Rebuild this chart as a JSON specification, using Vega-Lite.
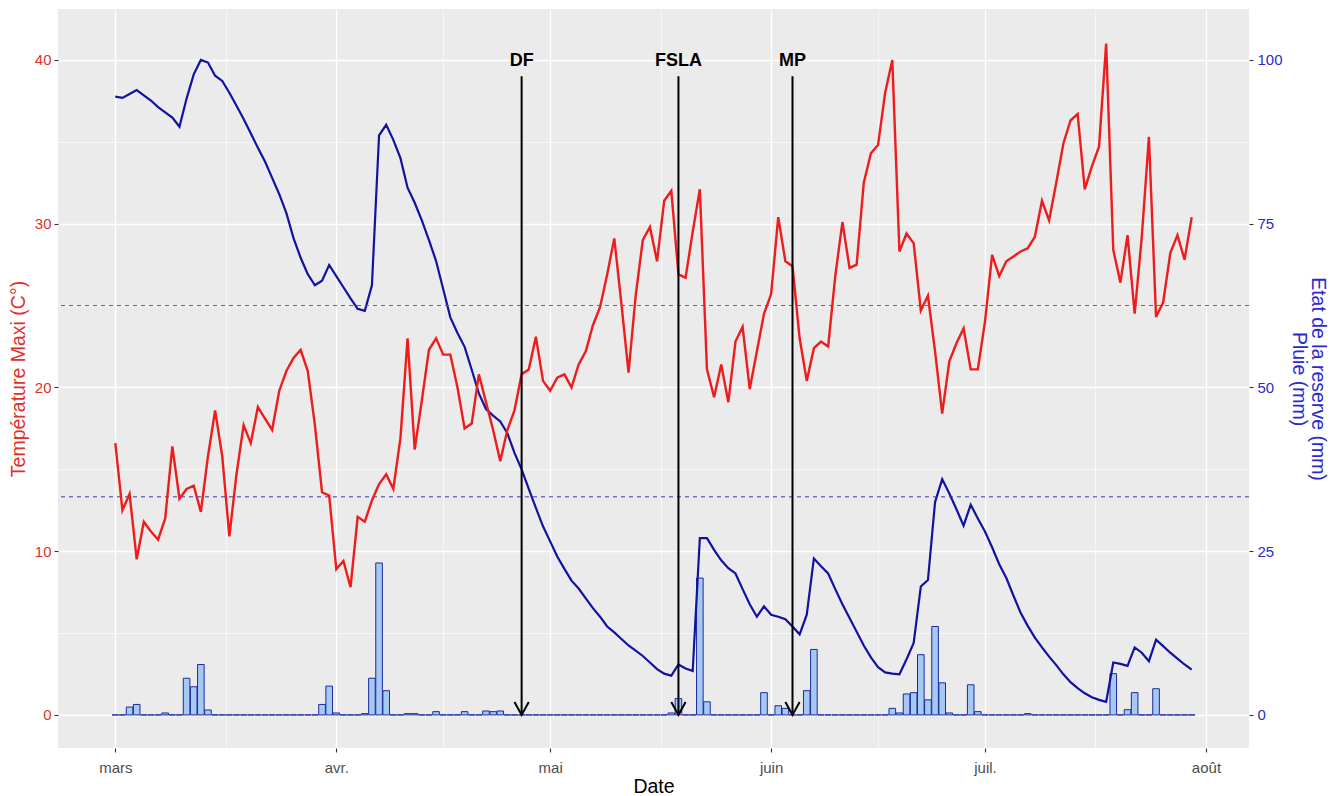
{
  "$schema": "https://vega.github.io/schema/vega-lite/v6.json",
  "width": 1191,
  "height": 739,
  "autosize": {"type": "none"},
  "padding": {"left": 58, "top": 9, "right": 87, "bottom": 48},
  "background": "white",
  "config": {
    "view": {"fill": "#EBEBEB", "stroke": null},
    "font": "Liberation Sans",
    "scale": {"continuousPadding": 0},
    "axis": {"domain": false, "tickColor": "#333333", "tickSize": 4, "tickWidth": 1.1, "labelFontSize": 15, "titleFontSize": 19.5, "titleFontWeight": "normal", "gridColor": "#FFFFFF", "labelFont": "Liberation Sans", "titleFont": "Liberation Sans"}
  },
  "datasets": {
    "main": [
      {"d": "2021-03-01", "t": 16.6, "r": 94.4, "p": 0},
      {"d": "2021-03-02", "t": 12.5, "r": 94.2, "p": 0},
      {"d": "2021-03-03", "t": 13.5, "r": 94.8, "p": 1.2},
      {"d": "2021-03-04", "t": 9.5, "r": 95.4, "p": 1.6},
      {"d": "2021-03-05", "t": 11.8, "r": 94.6, "p": 0},
      {"d": "2021-03-06", "t": 11.2, "r": 93.8, "p": 0},
      {"d": "2021-03-07", "t": 10.7, "r": 92.8, "p": 0},
      {"d": "2021-03-08", "t": 12.0, "r": 92.0, "p": 0.3},
      {"d": "2021-03-09", "t": 16.4, "r": 91.2, "p": 0},
      {"d": "2021-03-10", "t": 13.2, "r": 89.8, "p": 0},
      {"d": "2021-03-11", "t": 13.8, "r": 94.1, "p": 5.6},
      {"d": "2021-03-12", "t": 14.0, "r": 97.8, "p": 4.3},
      {"d": "2021-03-13", "t": 12.4, "r": 100.0, "p": 7.7},
      {"d": "2021-03-14", "t": 15.8, "r": 99.6, "p": 0.75},
      {"d": "2021-03-15", "t": 18.6, "r": 97.6, "p": 0},
      {"d": "2021-03-16", "t": 15.8, "r": 96.8, "p": 0},
      {"d": "2021-03-17", "t": 10.9, "r": 95.0, "p": 0},
      {"d": "2021-03-18", "t": 14.7, "r": 93.0, "p": 0},
      {"d": "2021-03-19", "t": 17.7, "r": 91.0, "p": 0},
      {"d": "2021-03-20", "t": 16.6, "r": 88.8, "p": 0},
      {"d": "2021-03-21", "t": 18.8, "r": 86.6, "p": 0},
      {"d": "2021-03-22", "t": 18.1, "r": 84.5, "p": 0},
      {"d": "2021-03-23", "t": 17.4, "r": 82.0, "p": 0},
      {"d": "2021-03-24", "t": 19.8, "r": 79.5, "p": 0},
      {"d": "2021-03-25", "t": 21.0, "r": 76.6, "p": 0},
      {"d": "2021-03-26", "t": 21.8, "r": 72.8, "p": 0},
      {"d": "2021-03-27", "t": 22.3, "r": 69.8, "p": 0},
      {"d": "2021-03-28", "t": 21.0, "r": 67.3, "p": 0},
      {"d": "2021-03-29", "t": 17.7, "r": 65.6, "p": 0},
      {"d": "2021-03-30", "t": 13.6, "r": 66.3, "p": 1.6},
      {"d": "2021-03-31", "t": 13.4, "r": 68.7, "p": 4.4},
      {"d": "2021-04-01", "t": 8.9, "r": 67.0, "p": 0.3},
      {"d": "2021-04-02", "t": 9.4, "r": 65.3, "p": 0},
      {"d": "2021-04-03", "t": 7.8, "r": 63.6, "p": 0},
      {"d": "2021-04-04", "t": 12.1, "r": 62.0, "p": 0},
      {"d": "2021-04-05", "t": 11.8, "r": 61.7, "p": 0.2},
      {"d": "2021-04-06", "t": 13.1, "r": 65.6, "p": 5.6},
      {"d": "2021-04-07", "t": 14.1, "r": 88.5, "p": 23.2},
      {"d": "2021-04-08", "t": 14.7, "r": 90.1, "p": 3.7},
      {"d": "2021-04-09", "t": 13.8, "r": 87.8, "p": 0},
      {"d": "2021-04-10", "t": 16.9, "r": 85.0, "p": 0},
      {"d": "2021-04-11", "t": 23.0, "r": 80.5, "p": 0.2},
      {"d": "2021-04-12", "t": 16.2, "r": 78.2, "p": 0.2},
      {"d": "2021-04-13", "t": 19.2, "r": 75.5, "p": 0},
      {"d": "2021-04-14", "t": 22.3, "r": 72.5, "p": 0},
      {"d": "2021-04-15", "t": 23.0, "r": 69.3, "p": 0.5},
      {"d": "2021-04-16", "t": 22.0, "r": 65.0, "p": 0},
      {"d": "2021-04-17", "t": 22.0, "r": 60.7, "p": 0},
      {"d": "2021-04-18", "t": 20.0, "r": 58.3, "p": 0},
      {"d": "2021-04-19", "t": 17.5, "r": 56.2, "p": 0.5},
      {"d": "2021-04-20", "t": 17.8, "r": 52.7, "p": 0},
      {"d": "2021-04-21", "t": 20.8, "r": 49.1, "p": 0},
      {"d": "2021-04-22", "t": 19.1, "r": 46.7, "p": 0.6},
      {"d": "2021-04-23", "t": 17.4, "r": 45.7, "p": 0.5},
      {"d": "2021-04-24", "t": 15.5, "r": 44.8, "p": 0.6},
      {"d": "2021-04-25", "t": 17.4, "r": 43.0, "p": 0},
      {"d": "2021-04-26", "t": 18.6, "r": 40.0, "p": 0},
      {"d": "2021-04-27", "t": 20.8, "r": 37.5, "p": 0},
      {"d": "2021-04-28", "t": 21.1, "r": 34.5, "p": 0},
      {"d": "2021-04-29", "t": 23.1, "r": 31.6, "p": 0},
      {"d": "2021-04-30", "t": 20.4, "r": 28.8, "p": 0},
      {"d": "2021-05-01", "t": 19.8, "r": 26.5, "p": 0},
      {"d": "2021-05-02", "t": 20.6, "r": 24.2, "p": 0},
      {"d": "2021-05-03", "t": 20.8, "r": 22.3, "p": 0},
      {"d": "2021-05-04", "t": 20.0, "r": 20.5, "p": 0},
      {"d": "2021-05-05", "t": 21.4, "r": 19.3, "p": 0},
      {"d": "2021-05-06", "t": 22.2, "r": 17.8, "p": 0},
      {"d": "2021-05-07", "t": 23.8, "r": 16.3, "p": 0},
      {"d": "2021-05-08", "t": 24.9, "r": 15.0, "p": 0},
      {"d": "2021-05-09", "t": 26.9, "r": 13.5, "p": 0},
      {"d": "2021-05-10", "t": 29.1, "r": 12.6, "p": 0},
      {"d": "2021-05-11", "t": 25.1, "r": 11.6, "p": 0},
      {"d": "2021-05-12", "t": 20.9, "r": 10.6, "p": 0},
      {"d": "2021-05-13", "t": 25.6, "r": 9.8, "p": 0},
      {"d": "2021-05-14", "t": 29.0, "r": 9.0, "p": 0},
      {"d": "2021-05-15", "t": 29.8, "r": 8.0, "p": 0},
      {"d": "2021-05-16", "t": 27.7, "r": 7.0, "p": 0},
      {"d": "2021-05-17", "t": 31.4, "r": 6.3, "p": 0},
      {"d": "2021-05-18", "t": 32.0, "r": 6.0, "p": 0.3},
      {"d": "2021-05-19", "t": 26.9, "r": 7.7, "p": 2.5},
      {"d": "2021-05-20", "t": 26.7, "r": 7.1, "p": 0},
      {"d": "2021-05-21", "t": 29.5, "r": 6.7, "p": 0},
      {"d": "2021-05-22", "t": 32.1, "r": 27.0, "p": 20.9},
      {"d": "2021-05-23", "t": 21.1, "r": 27.0, "p": 2.0},
      {"d": "2021-05-24", "t": 19.4, "r": 25.2, "p": 0},
      {"d": "2021-05-25", "t": 21.4, "r": 23.6, "p": 0},
      {"d": "2021-05-26", "t": 19.1, "r": 22.4, "p": 0},
      {"d": "2021-05-27", "t": 22.8, "r": 21.6, "p": 0},
      {"d": "2021-05-28", "t": 23.7, "r": 19.2, "p": 0},
      {"d": "2021-05-29", "t": 19.9, "r": 16.9, "p": 0},
      {"d": "2021-05-30", "t": 22.2, "r": 15.0, "p": 0},
      {"d": "2021-05-31", "t": 24.5, "r": 16.6, "p": 3.4},
      {"d": "2021-06-01", "t": 25.7, "r": 15.3, "p": 0},
      {"d": "2021-06-02", "t": 30.4, "r": 15.0, "p": 1.4},
      {"d": "2021-06-03", "t": 27.7, "r": 14.6, "p": 1.0},
      {"d": "2021-06-04", "t": 27.4, "r": 13.5, "p": 0},
      {"d": "2021-06-05", "t": 23.0, "r": 12.3, "p": 0},
      {"d": "2021-06-06", "t": 20.4, "r": 15.3, "p": 3.7},
      {"d": "2021-06-07", "t": 22.4, "r": 23.9, "p": 10.0},
      {"d": "2021-06-08", "t": 22.8, "r": 22.7, "p": 0},
      {"d": "2021-06-09", "t": 22.5, "r": 21.6, "p": 0},
      {"d": "2021-06-10", "t": 26.8, "r": 19.2, "p": 0},
      {"d": "2021-06-11", "t": 30.1, "r": 16.9, "p": 0},
      {"d": "2021-06-12", "t": 27.3, "r": 14.8, "p": 0},
      {"d": "2021-06-13", "t": 27.5, "r": 12.7, "p": 0},
      {"d": "2021-06-14", "t": 32.5, "r": 10.6, "p": 0},
      {"d": "2021-06-15", "t": 34.3, "r": 8.8, "p": 0},
      {"d": "2021-06-16", "t": 34.8, "r": 7.3, "p": 0},
      {"d": "2021-06-17", "t": 38.0, "r": 6.5, "p": 0},
      {"d": "2021-06-18", "t": 40.0, "r": 6.3, "p": 1.0},
      {"d": "2021-06-19", "t": 28.3, "r": 6.2, "p": 0.3},
      {"d": "2021-06-20", "t": 29.4, "r": 8.5, "p": 3.2},
      {"d": "2021-06-21", "t": 28.8, "r": 11.0, "p": 3.4},
      {"d": "2021-06-22", "t": 24.7, "r": 19.6, "p": 9.2},
      {"d": "2021-06-23", "t": 25.6, "r": 20.6, "p": 2.3},
      {"d": "2021-06-24", "t": 22.2, "r": 32.5, "p": 13.5},
      {"d": "2021-06-25", "t": 18.4, "r": 36.0, "p": 4.9},
      {"d": "2021-06-26", "t": 21.6, "r": 33.8, "p": 0.3},
      {"d": "2021-06-27", "t": 22.7, "r": 31.4, "p": 0},
      {"d": "2021-06-28", "t": 23.6, "r": 28.9, "p": 0},
      {"d": "2021-06-29", "t": 21.1, "r": 32.1, "p": 4.6},
      {"d": "2021-06-30", "t": 21.1, "r": 30.0, "p": 0.5},
      {"d": "2021-07-01", "t": 24.0, "r": 28.0, "p": 0},
      {"d": "2021-07-02", "t": 28.1, "r": 25.6, "p": 0},
      {"d": "2021-07-03", "t": 26.8, "r": 23.0, "p": 0},
      {"d": "2021-07-04", "t": 27.7, "r": 20.9, "p": 0},
      {"d": "2021-07-05", "t": 28.0, "r": 18.2, "p": 0},
      {"d": "2021-07-06", "t": 28.3, "r": 15.6, "p": 0},
      {"d": "2021-07-07", "t": 28.5, "r": 13.6, "p": 0.2},
      {"d": "2021-07-08", "t": 29.2, "r": 11.8, "p": 0},
      {"d": "2021-07-09", "t": 31.4, "r": 10.3, "p": 0},
      {"d": "2021-07-10", "t": 30.2, "r": 8.9, "p": 0},
      {"d": "2021-07-11", "t": 32.5, "r": 7.6, "p": 0},
      {"d": "2021-07-12", "t": 34.9, "r": 6.2, "p": 0},
      {"d": "2021-07-13", "t": 36.3, "r": 5.0, "p": 0},
      {"d": "2021-07-14", "t": 36.7, "r": 4.1, "p": 0},
      {"d": "2021-07-15", "t": 32.1, "r": 3.3, "p": 0},
      {"d": "2021-07-16", "t": 33.5, "r": 2.7, "p": 0},
      {"d": "2021-07-17", "t": 34.7, "r": 2.3, "p": 0},
      {"d": "2021-07-18", "t": 41.0, "r": 2.0, "p": 0},
      {"d": "2021-07-19", "t": 28.4, "r": 8.0, "p": 6.3},
      {"d": "2021-07-20", "t": 26.4, "r": 7.8, "p": 0},
      {"d": "2021-07-21", "t": 29.3, "r": 7.5, "p": 0.8},
      {"d": "2021-07-22", "t": 24.5, "r": 10.3, "p": 3.4},
      {"d": "2021-07-23", "t": 29.2, "r": 9.5, "p": 0},
      {"d": "2021-07-24", "t": 35.3, "r": 8.2, "p": 0},
      {"d": "2021-07-25", "t": 24.3, "r": 11.5, "p": 4.0},
      {"d": "2021-07-26", "t": 25.2, "r": 10.5, "p": 0},
      {"d": "2021-07-27", "t": 28.2, "r": 9.5, "p": 0},
      {"d": "2021-07-28", "t": 29.3, "r": 8.6, "p": 0},
      {"d": "2021-07-29", "t": 27.8, "r": 7.7, "p": 0},
      {"d": "2021-07-30", "t": 30.4, "r": 6.9, "p": 0}
    ],
    "events": [
      {"d": "2021-04-27", "label": "DF"},
      {"d": "2021-05-19", "label": "FSLA"},
      {"d": "2021-06-04", "label": "MP"}
    ]
  },
  "data": {"name": "main"},
  "layer": [
    {
      "layer": [
        {
          "mark": {"type": "bar", "width": 6.6, "fill": "#a6c9f2", "stroke": "#1c2a9e", "strokeWidth": 1},
          "encoding": {
            "x": {
              "field": "d", "type": "temporal",
              "scale": {"type": "utc", "domain": [1613862144000, 1628297856000], "nice": false, "padding": 0},
              "axis": {
                "title": "Date",
                "values": [1614556800000, 1615896000000, 1617235200000, 1618531200000, 1619827200000, 1621166400000, 1622505600000, 1623801600000, 1625097600000, 1626436800000, 1627776000000],
                "labelExpr": "utcdate(datum.value) == 1 ? ['janv.','févr.','mars','avr.','mai','juin','juil.','août','sept.','oct.','nov.','déc.'][utcmonth(datum.value)] : ''",
                "grid": true,
                "gridWidth": {"condition": {"test": "utcdate(datum.value) == 1", "value": 1.3}, "value": 0.6},
                "tickOpacity": {"condition": {"test": "utcdate(datum.value) == 1", "value": 1}, "value": 0},
                "labelColor": "#4d4d4d", "labelPadding": 8, "labelFlush": false, "labelOverlap": false,
                "titleColor": "#000000", "titlePadding": 2
              }
            },
            "y": {
              "field": "p", "type": "quantitative", "stack": null,
              "scale": {"domain": [-5.05, 107.78], "nice": false, "zero": false},
              "axis": {
                "orient": "right", "title": ["Etat de la reserve (mm)", "Pluie (mm)"],
                "values": [0, 25, 50, 75, 100], "grid": false,
                "labelColor": "#2a2ad0", "titleColor": "#2a2ad0", "labelPadding": 4, "titlePadding": 6, "titleLineHeight": 19
              }
            }
          }
        },
        {
          "mark": {"type": "line", "color": "#1212a0", "strokeWidth": 2.2},
          "encoding": {
            "x": {
              "field": "d", "type": "temporal",
              "scale": {"type": "utc", "domain": [1613862144000, 1628297856000], "nice": false, "padding": 0},
              "axis": {
                "title": "Date",
                "values": [1614556800000, 1615896000000, 1617235200000, 1618531200000, 1619827200000, 1621166400000, 1622505600000, 1623801600000, 1625097600000, 1626436800000, 1627776000000],
                "labelExpr": "utcdate(datum.value) == 1 ? ['janv.','févr.','mars','avr.','mai','juin','juil.','août','sept.','oct.','nov.','déc.'][utcmonth(datum.value)] : ''",
                "grid": true,
                "gridWidth": {"condition": {"test": "utcdate(datum.value) == 1", "value": 1.3}, "value": 0.6},
                "tickOpacity": {"condition": {"test": "utcdate(datum.value) == 1", "value": 1}, "value": 0},
                "labelColor": "#4d4d4d", "labelPadding": 8, "labelFlush": false, "labelOverlap": false,
                "titleColor": "#000000", "titlePadding": 2
              }
            },
            "y": {
              "field": "r", "type": "quantitative",
              "scale": {"domain": [-5.05, 107.78], "nice": false, "zero": false},
              "axis": {
                "orient": "right", "title": ["Etat de la reserve (mm)", "Pluie (mm)"],
                "values": [0, 25, 50, 75, 100], "grid": false,
                "labelColor": "#2a2ad0", "titleColor": "#2a2ad0", "labelPadding": 4, "titlePadding": 6, "titleLineHeight": 19
              }
            }
          }
        },
        {
          "data": {"values": [{}]},
          "mark": {"type": "rule", "color": "#3b3bb0", "strokeWidth": 1, "strokeDash": [4, 4]},
          "encoding": {
            "y": {
              "datum": 33.3, "type": "quantitative",
              "scale": {"domain": [-5.05, 107.78], "nice": false, "zero": false},
              "axis": {
                "orient": "right", "title": ["Etat de la reserve (mm)", "Pluie (mm)"],
                "values": [0, 25, 50, 75, 100], "grid": false,
                "labelColor": "#2a2ad0", "titleColor": "#2a2ad0", "labelPadding": 4, "titlePadding": 6, "titleLineHeight": 19
              }
            }
          }
        }
      ]
    },
    {
      "layer": [
        {
          "mark": {"type": "line", "color": "#ee1c1c", "strokeWidth": 2.4},
          "encoding": {
            "x": {
              "field": "d", "type": "temporal",
              "scale": {"type": "utc", "domain": [1613862144000, 1628297856000], "nice": false, "padding": 0},
              "axis": {
                "title": "Date",
                "values": [1614556800000, 1615896000000, 1617235200000, 1618531200000, 1619827200000, 1621166400000, 1622505600000, 1623801600000, 1625097600000, 1626436800000, 1627776000000],
                "labelExpr": "utcdate(datum.value) == 1 ? ['janv.','févr.','mars','avr.','mai','juin','juil.','août','sept.','oct.','nov.','déc.'][utcmonth(datum.value)] : ''",
                "grid": true,
                "gridWidth": {"condition": {"test": "utcdate(datum.value) == 1", "value": 1.3}, "value": 0.6},
                "tickOpacity": {"condition": {"test": "utcdate(datum.value) == 1", "value": 1}, "value": 0},
                "labelColor": "#4d4d4d", "labelPadding": 8, "labelFlush": false, "labelOverlap": false,
                "titleColor": "#000000", "titlePadding": 2
              }
            },
            "y": {
              "field": "t", "type": "quantitative",
              "scale": {"domain": [-2.02, 43.11], "nice": false, "zero": false},
              "axis": {
                "orient": "left", "title": "Température Maxi (C°)",
                "values": [0, 5, 10, 15, 20, 25, 30, 35, 40],
                "labelExpr": "datum.value % 10 == 0 ? datum.label : ''",
                "grid": true,
                "gridWidth": {"condition": {"test": "datum.value % 10 == 0", "value": 1.3}, "value": 0.6},
                "tickOpacity": {"condition": {"test": "datum.value % 10 == 0", "value": 1}, "value": 0},
                "labelColor": "#e0302a", "titleColor": "#e0302a", "labelPadding": 3, "titlePadding": 6
              }
            }
          }
        },
        {
          "data": {"values": [{}]},
          "mark": {"type": "rule", "color": "#cc3333", "strokeWidth": 1, "strokeDash": [4, 4]},
          "encoding": {
            "y": {
              "datum": 25, "type": "quantitative",
              "scale": {"domain": [-2.02, 43.11], "nice": false, "zero": false},
              "axis": {
                "orient": "left", "title": "Température Maxi (C°)",
                "values": [0, 5, 10, 15, 20, 25, 30, 35, 40],
                "labelExpr": "datum.value % 10 == 0 ? datum.label : ''",
                "grid": true,
                "gridWidth": {"condition": {"test": "datum.value % 10 == 0", "value": 1.3}, "value": 0.6},
                "tickOpacity": {"condition": {"test": "datum.value % 10 == 0", "value": 1}, "value": 0},
                "labelColor": "#e0302a", "titleColor": "#e0302a", "labelPadding": 3, "titlePadding": 6
              }
            }
          }
        },
        {
          "data": {"name": "events"},
          "mark": {"type": "rule", "color": "#000000", "strokeWidth": 2},
          "encoding": {
            "x": {
              "field": "d", "type": "temporal",
              "scale": {"type": "utc", "domain": [1613862144000, 1628297856000], "nice": false, "padding": 0},
              "axis": {
                "title": "Date",
                "values": [1614556800000, 1615896000000, 1617235200000, 1618531200000, 1619827200000, 1621166400000, 1622505600000, 1623801600000, 1625097600000, 1626436800000, 1627776000000],
                "labelExpr": "utcdate(datum.value) == 1 ? ['janv.','févr.','mars','avr.','mai','juin','juil.','août','sept.','oct.','nov.','déc.'][utcmonth(datum.value)] : ''",
                "grid": true,
                "gridWidth": {"condition": {"test": "utcdate(datum.value) == 1", "value": 1.3}, "value": 0.6},
                "tickOpacity": {"condition": {"test": "utcdate(datum.value) == 1", "value": 1}, "value": 0},
                "labelColor": "#4d4d4d", "labelPadding": 8, "labelFlush": false, "labelOverlap": false,
                "titleColor": "#000000", "titlePadding": 2
              }
            },
            "y": {
              "datum": 39, "type": "quantitative",
              "scale": {"domain": [-2.02, 43.11], "nice": false, "zero": false},
              "axis": {
                "orient": "left", "title": "Température Maxi (C°)",
                "values": [0, 5, 10, 15, 20, 25, 30, 35, 40],
                "labelExpr": "datum.value % 10 == 0 ? datum.label : ''",
                "grid": true,
                "gridWidth": {"condition": {"test": "datum.value % 10 == 0", "value": 1.3}, "value": 0.6},
                "tickOpacity": {"condition": {"test": "datum.value % 10 == 0", "value": 1}, "value": 0},
                "labelColor": "#e0302a", "titleColor": "#e0302a", "labelPadding": 3, "titlePadding": 6
              }
            },
            "y2": {"datum": 0}
          }
        },
        {
          "data": {"name": "events"},
          "mark": {"type": "point", "shape": "M-0.55,-1L0,0L0.55,-1", "filled": false, "stroke": "#000000", "strokeWidth": 2, "size": 676, "opacity": 1},
          "encoding": {
            "x": {
              "field": "d", "type": "temporal",
              "scale": {"type": "utc", "domain": [1613862144000, 1628297856000], "nice": false, "padding": 0},
              "axis": {
                "title": "Date",
                "values": [1614556800000, 1615896000000, 1617235200000, 1618531200000, 1619827200000, 1621166400000, 1622505600000, 1623801600000, 1625097600000, 1626436800000, 1627776000000],
                "labelExpr": "utcdate(datum.value) == 1 ? ['janv.','févr.','mars','avr.','mai','juin','juil.','août','sept.','oct.','nov.','déc.'][utcmonth(datum.value)] : ''",
                "grid": true,
                "gridWidth": {"condition": {"test": "utcdate(datum.value) == 1", "value": 1.3}, "value": 0.6},
                "tickOpacity": {"condition": {"test": "utcdate(datum.value) == 1", "value": 1}, "value": 0},
                "labelColor": "#4d4d4d", "labelPadding": 8, "labelFlush": false, "labelOverlap": false,
                "titleColor": "#000000", "titlePadding": 2
              }
            },
            "y": {
              "datum": 0, "type": "quantitative",
              "scale": {"domain": [-2.02, 43.11], "nice": false, "zero": false},
              "axis": {
                "orient": "left", "title": "Température Maxi (C°)",
                "values": [0, 5, 10, 15, 20, 25, 30, 35, 40],
                "labelExpr": "datum.value % 10 == 0 ? datum.label : ''",
                "grid": true,
                "gridWidth": {"condition": {"test": "datum.value % 10 == 0", "value": 1.3}, "value": 0.6},
                "tickOpacity": {"condition": {"test": "datum.value % 10 == 0", "value": 1}, "value": 0},
                "labelColor": "#e0302a", "titleColor": "#e0302a", "labelPadding": 3, "titlePadding": 6
              }
            }
          }
        },
        {
          "data": {"name": "events"},
          "mark": {"type": "text", "font": "Liberation Sans", "fontSize": 18, "fontWeight": "bold", "color": "#000000", "baseline": "middle", "align": "center", "dy": 1},
          "encoding": {
            "x": {
              "field": "d", "type": "temporal",
              "scale": {"type": "utc", "domain": [1613862144000, 1628297856000], "nice": false, "padding": 0},
              "axis": {
                "title": "Date",
                "values": [1614556800000, 1615896000000, 1617235200000, 1618531200000, 1619827200000, 1621166400000, 1622505600000, 1623801600000, 1625097600000, 1626436800000, 1627776000000],
                "labelExpr": "utcdate(datum.value) == 1 ? ['janv.','févr.','mars','avr.','mai','juin','juil.','août','sept.','oct.','nov.','déc.'][utcmonth(datum.value)] : ''",
                "grid": true,
                "gridWidth": {"condition": {"test": "utcdate(datum.value) == 1", "value": 1.3}, "value": 0.6},
                "tickOpacity": {"condition": {"test": "utcdate(datum.value) == 1", "value": 1}, "value": 0},
                "labelColor": "#4d4d4d", "labelPadding": 8, "labelFlush": false, "labelOverlap": false,
                "titleColor": "#000000", "titlePadding": 2
              }
            },
            "y": {
              "datum": 40, "type": "quantitative",
              "scale": {"domain": [-2.02, 43.11], "nice": false, "zero": false},
              "axis": {
                "orient": "left", "title": "Température Maxi (C°)",
                "values": [0, 5, 10, 15, 20, 25, 30, 35, 40],
                "labelExpr": "datum.value % 10 == 0 ? datum.label : ''",
                "grid": true,
                "gridWidth": {"condition": {"test": "datum.value % 10 == 0", "value": 1.3}, "value": 0.6},
                "tickOpacity": {"condition": {"test": "datum.value % 10 == 0", "value": 1}, "value": 0},
                "labelColor": "#e0302a", "titleColor": "#e0302a", "labelPadding": 3, "titlePadding": 6
              }
            },
            "text": {"field": "label"}
          }
        }
      ]
    }
  ],
  "resolve": {"scale": {"y": "independent"}}
}
